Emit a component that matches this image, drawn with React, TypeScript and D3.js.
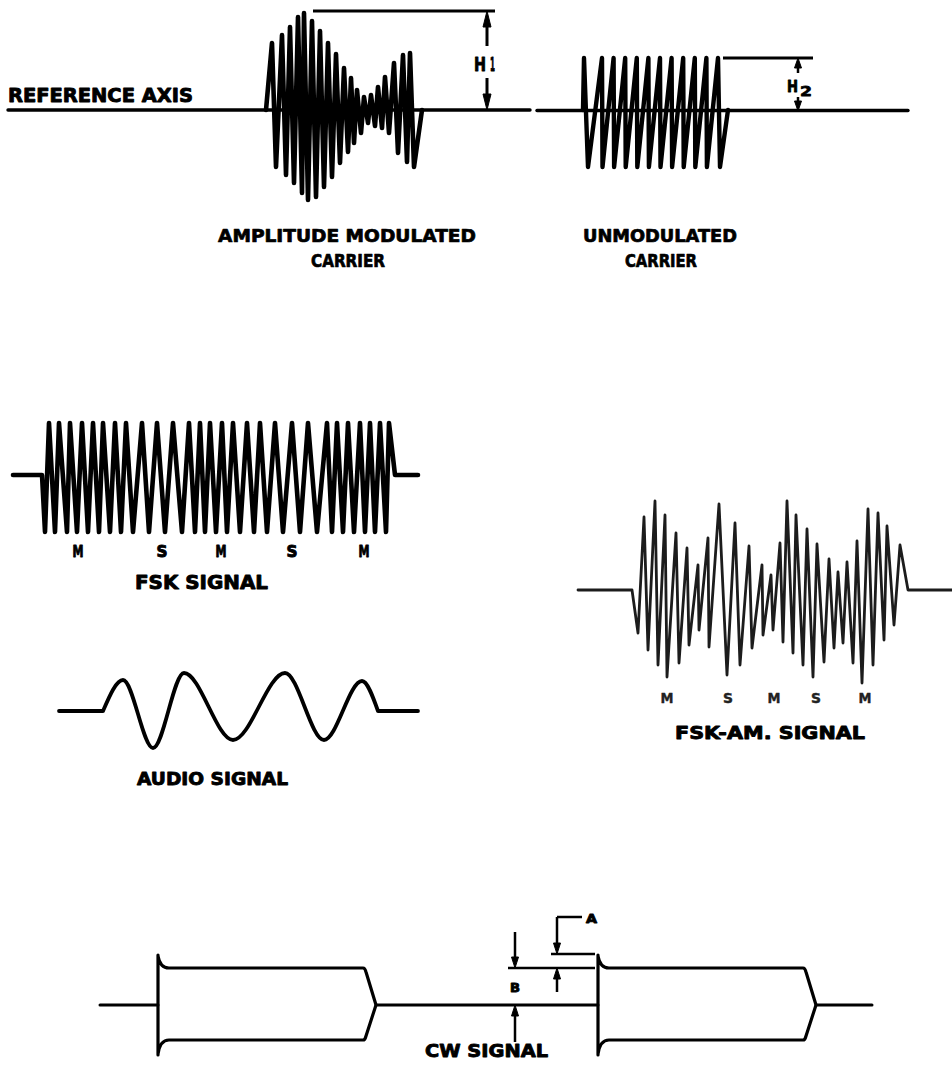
import React from "react";
import * as d3 from "d3";

const FONT = "'DejaVu Sans', 'Liberation Sans', Arial, sans-serif";
const INK = "#000";

// ---------- AMPLITUDE MODULATED CARRIER (time from onset, amplitude re. reference axis)
const amPeakTimes = [6, 16, 24, 32, 38, 46, 54, 62, 70, 78, 85, 91, 98, 105, 112, 119, 128, 137, 144];
const amUpperEnv = [0.67, 0.75, 0.83, 0.93, 0.97, 0.89, 0.79, 0.67, 0.56, 0.42, 0.32, 0.2, 0.13, 0.15, 0.23, 0.33, 0.47, 0.55, 0.57];
const amTroughTimes = [10, 20, 28, 36, 42, 50, 58, 66, 74, 82, 88, 95, 102, 109, 116, 123, 132, 141, 148];
const amLowerEnv = [-0.57, -0.65, -0.73, -0.83, -0.9, -0.87, -0.77, -0.67, -0.53, -0.42, -0.33, -0.23, -0.13, -0.16, -0.18, -0.23, -0.43, -0.52, -0.57];
const amEndTime = 156;

// ---------- UNMODULATED CARRIER
const ucPeakTimes = [1, 19, 30.6, 42.2, 53.8, 65.4, 77, 88.6, 100.2, 111.8, 123.4, 135];
const ucTroughTimes = [5, 19.5, 31.1, 42.7, 54.3, 65.9, 77.5, 89.1, 100.7, 112.3, 123.9, 137];
const ucPeak = 0.52;
const ucTrough = -0.57;
const ucEndTime = 145;

// ---------- FSK SIGNAL
const fskTroughTimes = [3, 13, 25, 35, 46, 57, 68, 79, 91, 107, 123, 140, 153, 163, 174, 185, 198, 212, 225, 241, 258, 275, 290, 301, 312, 323, 333, 344];
const fskPeakTimes = [7, 17, 28, 40, 51, 61, 73, 84, 100, 115, 131, 147, 158, 168, 180, 191, 205, 218, 233, 250, 266, 285, 295, 306, 318, 328, 338, 347];
const fskPeak = 0.52;
const fskTrough = -0.57;
const fskEndTime = 353;
const fskKeys = ["M", "S", "M", "S", "M"];

// ---------- AUDIO SIGNAL (extremes)
const audioTimes = [0, 20, 50, 81, 130, 182, 221, 259, 275];
const audioValues = [0, 0.31, -0.37, 0.38, -0.29, 0.38, -0.29, 0.3, 0];

// ---------- FSK-AM SIGNAL (alternating extremes)
const fskAmTimes = [0, 6, 12, 16, 23, 26, 33, 35, 44, 47, 55, 57, 66, 67, 76, 77, 87, 95, 103, 108, 117, 120, 130, 131, 139, 141, 148, 151, 155, 161, 164, 171, 175, 181, 185, 192, 197, 202, 206, 211, 215, 221, 225, 230, 236, 241, 246, 252, 255, 262, 268, 276];
const fskAmValues = [0, -0.43, 0.73, -0.6, 0.89, -0.75, 0.75, -0.87, 0.57, -0.73, 0.42, -0.55, 0.25, -0.4, 0.52, -0.57, 0.86, -0.85, 0.67, -0.75, 0.44, -0.58, 0.25, -0.45, 0.15, -0.4, 0.47, -0.52, 0.89, -0.63, 0.75, -0.75, 0.61, -0.87, 0.46, -0.72, 0.31, -0.58, 0.18, -0.53, 0.28, -0.73, 0.49, -0.93, 0.81, -0.75, 0.77, -0.5, 0.64, -0.35, 0.45, 0];
const fskAmKeys = ["M", "S", "M", "S", "M"];

// ---------- CW SIGNAL
const cwKeyOn = [58, 498];
const cwKeyOff = [265, 705];
const cwDecay = 11;
const cwSteadyUp = 0.37;
const cwSteadyDown = -0.35;
const cwOvershoot = 0.5;
const cwEndTime = 772;

type P = [number, number];

function Label({ text, x0, x1, y, size, fill = INK, heavy = 0.7 }: any) {
  return (
    <text
      x={x0}
      y={y}
      textLength={x1 - x0}
      lengthAdjust="spacingAndGlyphs"
      fontFamily={FONT}
      fontWeight={700}
      fontSize={size}
      fill={fill}
      stroke={fill}
      strokeWidth={heavy}
      strokeLinejoin="round"
    >
      {text}
    </text>
  );
}

function Arrow({ x, tail, tip, len = 11, half = 3.5, w = 2.5 }: any) {
  const dir = tip > tail ? 1 : -1;
  const base = tip - dir * len;
  return (
    <g>
      <line x1={x} y1={tail} x2={x} y2={base} stroke={INK} strokeWidth={w} />
      <path d={`M${x - half},${base} L${x},${tip} L${x + half},${base} Z`} fill={INK} stroke={INK} strokeWidth={1} strokeLinejoin="round" />
    </g>
  );
}

export default function App() {
  // ---- top panel scales
  const yTop = d3.scaleLinear().domain([-1, 1]).range([210, 10]);
  const xAm = d3.scaleLinear().domain([0, amEndTime]).range([266, 266 + amEndTime]);
  const xUc = d3.scaleLinear().domain([0, ucEndTime]).range([583, 583 + ucEndTime]);

  const amVerts: P[] = [[0, 0]];
  amPeakTimes.forEach((t, i) => {
    amVerts.push([t, amUpperEnv[i]]);
    amVerts.push([amTroughTimes[i], amLowerEnv[i]]);
  });
  amVerts.push([amEndTime, 0]);
  const amPath = d3.line<P>().x((d) => xAm(d[0])).y((d) => yTop(d[1]))(amVerts) || "";

  const ucVerts: P[] = [[0, 0]];
  ucPeakTimes.forEach((t, i) => {
    ucVerts.push([t, ucPeak]);
    ucVerts.push([ucTroughTimes[i], ucTrough]);
  });
  ucVerts.push([ucEndTime, 0]);
  const ucPath = d3.line<P>().x((d) => xUc(d[0])).y((d) => yTop(d[1]))(ucVerts) || "";

  // ---- FSK
  const yFsk = d3.scaleLinear().domain([-1, 1]).range([575, 375]);
  const xFsk = d3.scaleLinear().domain([0, fskEndTime]).range([42, 42 + fskEndTime]);
  const fskVerts: P[] = [[-29, 0], [0, 0]];
  fskTroughTimes.forEach((t, i) => {
    fskVerts.push([t, fskTrough]);
    fskVerts.push([fskPeakTimes[i], fskPeak]);
  });
  fskVerts.push([fskEndTime, 0]);
  fskVerts.push([fskEndTime + 23, 0]);
  const fskPath = d3.line<P>().x((d) => xFsk(d[0])).y((d) => yFsk(d[1]))(fskVerts) || "";
  const fskKeyX = [36, 120, 179, 250, 322];

  // ---- Audio
  const yAud = d3.scaleLinear().domain([-1, 1]).range([811, 611]);
  const xAud = d3.scaleLinear().domain([0, 275]).range([103, 378]);
  const audPts: P[] = audioTimes.map((t, i) => [t, audioValues[i]]);
  const audPath = d3.line<P>().x((d) => xAud(d[0])).y((d) => yAud(d[1])).curve(d3.curveMonotoneX)(audPts) || "";

  // ---- FSK-AM
  const yFa = d3.scaleLinear().domain([-1, 1]).range([690, 490]);
  const xFa = d3.scaleLinear().domain([0, 276]).range([632, 908]);
  const faVerts: P[] = [[-54, 0]];
  fskAmTimes.forEach((t, i) => faVerts.push([t, fskAmValues[i]]));
  faVerts.push([320, 0]);
  const faPath = d3.line<P>().x((d) => xFa(d[0])).y((d) => yFa(d[1]))(faVerts) || "";
  const faKeyX = [35, 96, 142, 184, 233];

  // ---- CW
  const yCw = d3.scaleLinear().domain([-1, 1]).range([1105, 905]);
  const xCw = d3.scaleLinear().domain([0, cwEndTime]).range([100, 100 + cwEndTime]);
  const y0 = yCw(0);
  const baseSegs: P[] = [];
  let prev = 0;
  cwKeyOn.forEach((on, i) => {
    baseSegs.push([prev, on]);
    prev = cwKeyOff[i] + cwDecay;
  });
  baseSegs.push([prev, cwEndTime]);

  const cwEnvelope = (on: number, off: number) => {
    const xo = xCw(on);
    const xf = xCw(off);
    const xe = xCw(off + cwDecay);
    const yu = yCw(cwSteadyUp);
    const yd = yCw(cwSteadyDown);
    const yo = yCw(cwOvershoot);
    const yod = yCw(-cwOvershoot);
    const p = d3.path();
    p.moveTo(xo, yo);
    p.lineTo(xo, yod);
    p.moveTo(xo, yo + 1);
    p.quadraticCurveTo(xo + 2, yu, xo + 11, yu);
    p.lineTo(xf - 2, yu);
    p.quadraticCurveTo(xf, yu, xf + 1, yu + 4);
    p.lineTo(xe, y0);
    p.lineTo(xf + 1, yd - 4);
    p.quadraticCurveTo(xf, yd, xf - 2, yd);
    p.lineTo(xo + 11, yd);
    p.quadraticCurveTo(xo + 2, yd, xo, yod - 1);
    return p.toString();
  };

  const bx = xCw(415);
  const ax = xCw(457);
  const edgeX = xCw(cwKeyOn[1]) - 3;

  return (
    <div style={{ position: "absolute", left: 0, top: 0 }}>
      <svg width={952} height={1077} viewBox="0 0 952 1077" style={{ display: "block", background: "#fff" }}>
        <rect x={0} y={0} width={952} height={1077} fill="#fff" />

        {/* ===== top panel ===== */}
        <Label text="REFERENCE AXIS" x0={8} x1={193} y={102} size={19} heavy={0.9} />
        <line x1={8} y1={yTop(0)} x2={530} y2={yTop(0)} stroke={INK} strokeWidth={3.4} strokeLinecap="round" />
        <line x1={537} y1={yTop(0) + 0.5} x2={908} y2={yTop(0) + 0.5} stroke={INK} strokeWidth={3.4} strokeLinecap="round" />
        <path d={amPath} fill="none" stroke={INK} strokeWidth={4.6} strokeLinejoin="round" strokeLinecap="round" />
        <path d={ucPath} fill="none" stroke={INK} strokeWidth={4.4} strokeLinejoin="round" strokeLinecap="round" />

        {/* H1 dimension */}
        <line x1={313} y1={11} x2={495} y2={11} stroke={INK} strokeWidth={3} />
        <Arrow x={487} tail={46} tip={11} len={16} half={4} w={3} />
        <Arrow x={487} tail={78} tip={110} len={16} half={4} w={3} />
        <Label text="H" x0={474} x1={486} y={71} size={19} heavy={0.9} />
        <Label text="1" x0={490} x1={495} y={71} size={19} heavy={0.9} />

        {/* H2 dimension */}
        <line x1={723} y1={58} x2={813} y2={58} stroke={INK} strokeWidth={3} />
        <Arrow x={798} tail={73} tip={58} len={10} half={3.5} w={2.5} />
        <Arrow x={798} tail={97} tip={111} len={10} half={3.5} w={2.5} />
        <Label text="H" x0={787} x1={798} y={92} size={15} heavy={0.8} />
        <Label text="2" x0={800} x1={812} y={96} size={14} heavy={0.8} />

        <Label text="AMPLITUDE MODULATED" x0={218} x1={476} y={242} size={17} />
        <Label text="CARRIER" x0={311} x1={385} y={267} size={17} />
        <Label text="UNMODULATED" x0={583} x1={737} y={242} size={17} />
        <Label text="CARRIER" x0={625} x1={697} y={267} size={17} />

        {/* ===== FSK ===== */}
        <path d={fskPath} fill="none" stroke={INK} strokeWidth={4.6} strokeLinejoin="round" strokeLinecap="round" />
        {fskKeys.map((k, i) => (
          <Label key={"fk" + i} text={k} x0={xFsk(fskKeyX[i]) - 5.5} x1={xFsk(fskKeyX[i]) + 5.5} y={557} size={15} heavy={0.9} />
        ))}
        <Label text="FSK SIGNAL" x0={135} x1={268} y={589} size={19} heavy={0.9} />

        {/* ===== AUDIO ===== */}
        <line x1={59} y1={yAud(0)} x2={xAud(0)} y2={yAud(0)} stroke={INK} strokeWidth={3.8} strokeLinecap="round" />
        <line x1={xAud(275)} y1={yAud(0)} x2={418} y2={yAud(0)} stroke={INK} strokeWidth={3.8} strokeLinecap="round" />
        <path d={audPath} fill="none" stroke={INK} strokeWidth={3.8} strokeLinejoin="round" />
        <Label text="AUDIO SIGNAL" x0={137} x1={288} y={785} size={18} heavy={0.9} />

        {/* ===== FSK-AM ===== */}
        <path d={faPath} fill="none" stroke="#1c1c1c" strokeWidth={2.8} strokeLinejoin="round" strokeLinecap="round" />
        {fskAmKeys.map((k, i) => (
          <Label key={"fa" + i} text={k} x0={xFa(faKeyX[i]) - (k === "M" ? 6.5 : 5)} x1={xFa(faKeyX[i]) + (k === "M" ? 6.5 : 5)} y={703} size={14} fill="#222" heavy={0.4} />
        ))}
        <Label text="FSK-AM. SIGNAL" x0={675} x1={865} y={739} size={18} heavy={0.9} />

        {/* ===== CW ===== */}
        {baseSegs.map((s, i) => (
          <line key={"cb" + i} x1={xCw(s[0])} y1={y0} x2={xCw(s[1])} y2={y0} stroke={INK} strokeWidth={3} strokeLinecap="round" />
        ))}
        {cwKeyOn.map((on, i) => (
          <path key={"ce" + i} d={cwEnvelope(on, cwKeyOff[i])} fill="none" stroke={INK} strokeWidth={3.2} strokeLinejoin="round" strokeLinecap="round" />
        ))}
        {/* B dimension */}
        <line x1={508} y1={yCw(cwSteadyUp)} x2={edgeX} y2={yCw(cwSteadyUp)} stroke={INK} strokeWidth={2.5} />
        <Arrow x={bx} tail={932} tip={yCw(cwSteadyUp)} len={11} half={3.5} w={2.5} />
        <Arrow x={bx} tail={1042} tip={y0} len={11} half={3.5} w={2.5} />
        <Label text="B" x0={bx - 5} x1={bx + 5} y={992} size={12} heavy={0.9} />
        {/* A dimension */}
        <line x1={551} y1={yCw(cwOvershoot) - 1} x2={edgeX} y2={yCw(cwOvershoot) - 1} stroke={INK} strokeWidth={2.5} />
        <line x1={ax} y1={917} x2={582} y2={917} stroke={INK} strokeWidth={2.5} />
        <Arrow x={ax} tail={917} tip={yCw(cwOvershoot) - 1} len={11} half={3.5} w={2.5} />
        <Arrow x={ax} tail={992} tip={yCw(cwSteadyUp)} len={11} half={3.5} w={2.5} />
        <Label text="A" x0={586} x1={597} y={923} size={13} heavy={0.9} />

        <Label text="CW SIGNAL" x0={425} x1={548} y={1057} size={18} heavy={0.9} />
      </svg>
    </div>
  );
}
